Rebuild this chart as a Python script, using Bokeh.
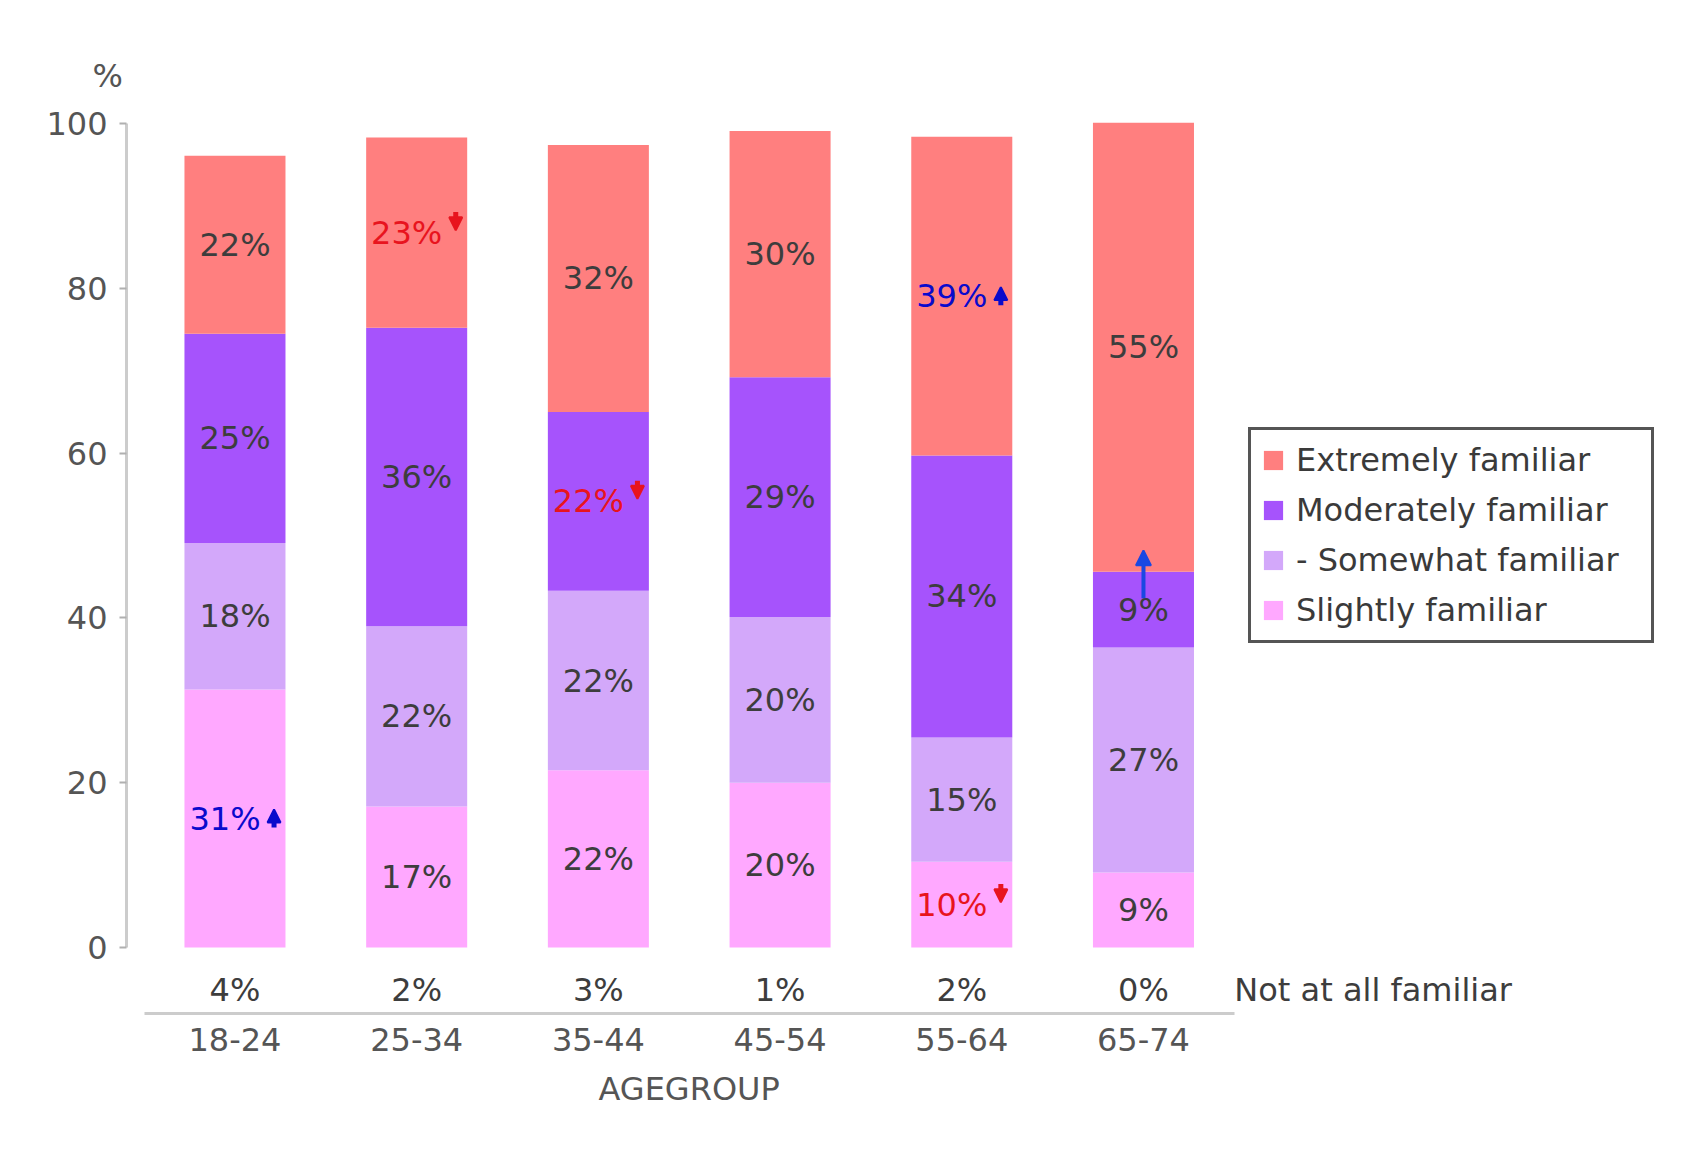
from bokeh.plotting import figure
from bokeh.models import (ColumnDataSource, Range1d, FixedTicker, Legend, LegendItem,
                          Title, Arrow, NormalHead)
from bokeh.core.properties import value
from bokeh.embed import file_html
from bokeh.resources import INLINE

# ---------------- data ----------------
categories = ["18-24", "25-34", "35-44", "45-54", "55-64", "65-74"]
series_names = ["Slightly familiar", "- Somewhat familiar", "Moderately familiar", "Extremely familiar"]
slightly = [31.3, 17.1, 21.5, 20.0, 10.4, 9.1]
somewhat = [17.8, 21.9, 21.8, 20.1, 15.1, 27.3]
moderately = [25.4, 36.2, 21.7, 29.1, 34.2, 9.2]
extremely = [21.6, 23.1, 32.4, 29.9, 38.7, 54.5]
not_at_all = [4, 2, 3, 1, 2, 0]
# significance markers: "up", "down", "long_up" or ""
slightly_sig = ["up", "", "", "", "down", ""]
somewhat_sig = ["", "", "", "", "", ""]
moderately_sig = ["", "", "down", "", "", "long_up"]
extremely_sig = ["", "down", "", "", "up", ""]
y_ticks = [0, 20, 40, 60, 80, 100]

# ---------------- style ----------------
FONT = "DejaVu Sans"
FS = "32px"
colors = ["#FFA8FF", "#D3A8FA", "#A653FC", "#FF7F7F"]
DARK = "#3d3d3d"
GREY = "#555555"
RED = "#E8141E"
BLUE = "#0A0ACC"
ARROW_BLUE = "#1A48E2"

keys = ["slightly", "somewhat", "moderately", "extremely"]
series_vals = [slightly, somewhat, moderately, extremely]
series_sigs = [slightly_sig, somewhat_sig, moderately_sig, extremely_sig]
xs = list(range(len(categories)))

p = figure(width=1669, height=1139, output_backend="svg", toolbar_location=None,
           x_range=Range1d(-0.597, 7.84), y_range=Range1d(-8.01, 102.43),
           min_border_left=126, min_border_right=10, min_border_top=103,
           min_border_bottom=126)
p.xgrid.visible = False
p.ygrid.visible = False
p.outline_line_color = None
p.background_fill_color = "white"
p.border_fill_color = "white"

# "%" unit title above the y axis
p.title.text = "%"
p.title.align = "left"
p.title.offset = -34
p.title.standoff = 18
p.title.text_font = FONT
p.title.text_font_size = FS
p.title.text_font_style = "normal"
p.title.text_color = GREY

src = ColumnDataSource(dict(x=xs, **{k: v for k, v in zip(keys, series_vals)}))
renderers = p.vbar_stack(keys, x="x", width=0.556, source=src,
                         fill_color=colors, line_color=None)

# segment labels and arrows
lab = dict(x=[], y=[], text=[], color=[])
up = dict(x0=[], y0=[], x1=[], y1=[])
down = dict(x0=[], y0=[], x1=[], y1=[])
longup = dict(x0=[], y0=[], x1=[], y1=[])
bottoms = [0.0] * len(categories)
for vals, sigs in zip(series_vals, series_sigs):
    for i, (v, s) in enumerate(zip(vals, sigs)):
        mid = bottoms[i] + v / 2
        shifted = s in ("up", "down")
        lab["x"].append(i - 0.055 if shifted else i)
        lab["y"].append(mid)
        lab["text"].append(f"{int(v + 0.5)}%")
        lab["color"].append(BLUE if s == "up" else RED if s == "down" else DARK)
        ax = i + 0.215
        if s == "up":
            seg = [ax, mid - 1.1, ax, mid + 1.1]
            tgt = up
        elif s == "down":
            seg = [ax, mid + 2.5, ax, mid + 0.3]
            tgt = down
        elif s == "long_up":
            seg = [i, mid + 1.4, i, bottoms[i] + v + 2.6]
            tgt = longup
        else:
            tgt = None
        if tgt is not None:
            for k, val in zip(["x0", "y0", "x1", "y1"], seg):
                tgt[k].append(val)
        bottoms[i] += v

p.text(x="x", y="y", text="text", source=ColumnDataSource(lab), text_color="color",
       text_font=value(FONT), text_font_size=FS, text_align="center",
       text_baseline="middle")

for d, col, size, lw in [(up, BLUE, 13, 5), (down, RED, 13, 5), (longup, ARROW_BLUE, 15, 4)]:
    p.add_layout(Arrow(end=NormalHead(size=size, fill_color=col, line_color=col, line_width=2),
                       x_start="x0", y_start="y0", x_end="x1", y_end="y1",
                       source=ColumnDataSource(d), line_color=col, line_width=lw))

# "Not at all familiar" row
na = ColumnDataSource(dict(x=xs, y=[-5.1] * len(xs), text=[f"{v}%" for v in not_at_all]))
p.text(x="x", y="y", text="text", source=na, text_color=DARK, text_font=value(FONT),
       text_font_size=FS, text_align="center", text_baseline="middle")
p.text(x=[len(categories) - 0.5], y=[-5.1], text=["Not at all familiar"], text_color=DARK,
       text_font=value(FONT), text_font_size=FS, text_align="left", text_baseline="middle")

# axes
ya = p.yaxis[0]
ya.ticker = FixedTicker(ticks=y_ticks)
ya.bounds = (0, 100)
ya.axis_line_color = "#cccccc"
ya.axis_line_width = 3
ya.major_tick_line_color = "#b0b0b0"
ya.major_tick_line_width = 2
ya.major_tick_in = 0
ya.major_tick_out = 7
ya.minor_tick_line_color = None
ya.major_label_standoff = 12
ya.major_label_text_font = FONT
ya.major_label_text_font_size = FS
ya.major_label_text_color = GREY

xa = p.xaxis[0]
xa.ticker = FixedTicker(ticks=xs)
xa.major_label_overrides = {i: c for i, c in zip(xs, categories)}
xa.bounds = (-0.5, len(categories) - 0.5)
xa.axis_line_color = "#cccccc"
xa.axis_line_width = 3
xa.major_tick_line_color = None
xa.minor_tick_line_color = None
xa.major_label_standoff = 8
xa.major_label_text_font = FONT
xa.major_label_text_font_size = FS
xa.major_label_text_color = GREY

# x axis title, centred under the category span
p.add_layout(Title(text="AGEGROUP", align="left", offset=472, text_font=FONT,
                   text_font_size=FS, text_font_style="normal", text_color=GREY,
                   standoff=28), "below")

# legend (top category first)
items = [LegendItem(label=n, renderers=[r]) for n, r in reversed(list(zip(series_names, renderers)))]
legend = Legend(items=items, location=(1122, 370), glyph_width=24, glyph_height=24,
                label_height=40, label_width=345, label_standoff=11, spacing=10, padding=10,
                label_text_font=FONT, label_text_font_size="32px", label_text_color="#3a3a3a",
                border_line_color="#555555", border_line_width=3, border_line_alpha=1,
                background_fill_color="white", background_fill_alpha=1)
p.add_layout(legend)

open("out.html", "w").write(file_html(p, INLINE))
